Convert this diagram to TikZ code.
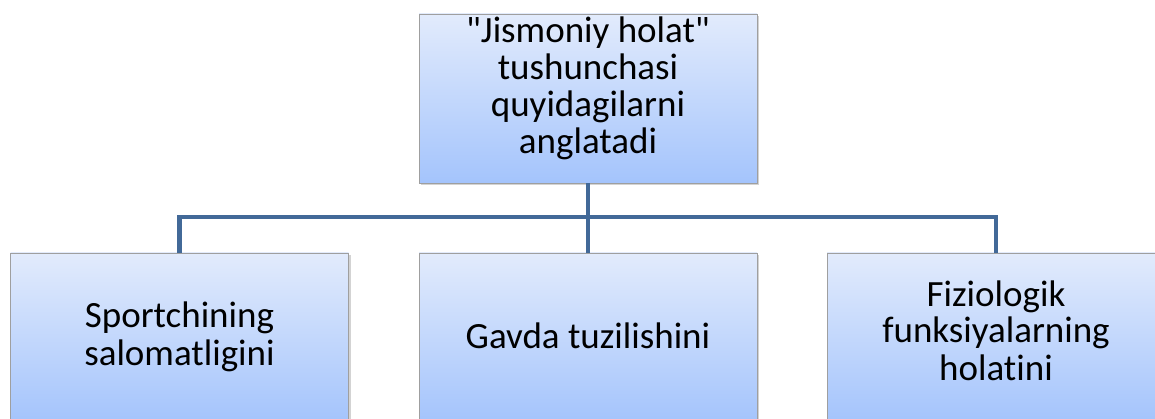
\documentclass[tikz,border=0pt]{standalone}
\usepackage{fontspec}
\setmainfont{Carlito}[Ligatures=NoCommon]
\usepackage{xcolor}
\usepackage{tikz}
\usetikzlibrary{positioning,shadows}

\definecolor{boxtop}{RGB}{226,235,252}
\definecolor{boxbottom}{RGB}{164,196,252}
\definecolor{linkblue}{RGB}{66,105,152}

% lines of a box, first baseline raised by #1 above the box centre
\newcommand{\cardlines}[2]{\raisebox{#1}[0pt][0pt]{\begin{tabular}[t]{@{}c@{}}#2\end{tabular}}}

\begin{document}
\begin{tikzpicture}[x=1pt,y=-1pt,
    card/.style={draw=gray!75, line width=0.7pt, top color=boxtop, bottom color=boxbottom,
      minimum width=338pt, minimum height=169pt, align=center, inner sep=0pt,
      font=\fontsize{37}{37}\selectfont,
      drop shadow={shadow xshift=2pt, shadow yshift=-2.5pt, opacity=0.35}},
    link/.style={linkblue, line width=4.5pt}]
  \useasboundingbox (0,0) rectangle (1155,419);
  \clip (0,0) rectangle (1155,419);

  % Boxes
  \coordinate (bus) at (588,217);
  \node[card] (concept) at (588,98.5) {\cardlines{55.5pt}{\textquotedbl Jismoniy holat\textquotedbl\\tushunchasi\\quyidagilarni\\anglatadi}};
  \node[card] (health) at (179.5,337.5) {\cardlines{9.5pt}{Sportchining\\salomatligini}};
  \node[card] (build) at (588,337.5) {\cardlines{-10.5pt}{Gavda tuzilishini}};
  \node[card] (organs) at (996,337.5) {\cardlines{31.5pt}{Fiziologik\\funksiyalarning\\holatini}};

  % Connectors
  \draw[link] (concept.south) -- (build.north);
  \draw[link] (bus) -| (health.north);
  \draw[link] (bus) -| (organs.north);
\end{tikzpicture}
\end{document}
